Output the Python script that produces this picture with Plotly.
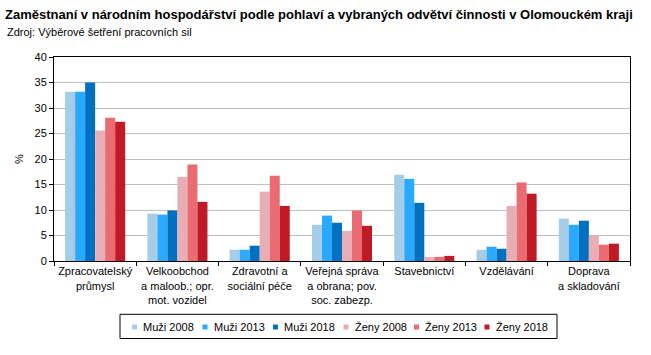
import plotly.graph_objects as go

# ---- data ----
categories = [
    "Zpracovatelský<br>průmysl",
    "Velkoobchod<br>a maloob.; opr.<br>mot. vozidel",
    "Zdravotní a<br>sociální péče",
    "Veřejná správa<br>a obrana; pov.<br>soc. zabezp.",
    "Stavebnictví",
    "Vzdělávání",
    "Doprava<br>a skladování",
]
series_names = ["Muži 2008", "Muži 2013", "Muži 2018", "Ženy 2008", "Ženy 2013", "Ženy 2018"]
muzi_2008 = [33.2, 9.3, 2.2, 7.1, 16.9, 2.2, 8.3]
muzi_2013 = [33.2, 9.1, 2.2, 8.9, 16.1, 2.8, 7.1]
muzi_2018 = [35.0, 9.9, 3.0, 7.5, 11.4, 2.4, 7.9]
zeny_2008 = [25.6, 16.5, 13.6, 5.9, 0.8, 10.8, 4.9]
zeny_2013 = [28.1, 18.9, 16.7, 9.9, 0.8, 15.4, 3.2]
zeny_2018 = [27.3, 11.6, 10.8, 6.9, 1.0, 13.2, 3.4]
y_ticks = [0, 5, 10, 15, 20, 25, 30, 35, 40]

# ---- styles ----
colors = ["#A6CDE8", "#29A9FF", "#0070C0", "#E8AEB3", "#EA6B72", "#BE1B26"]
FONT = "Liberation Sans, Arial, sans-serif"
W, H = 651, 355
ML, MR, MT, MB = 54, 21, 57, 94
PW, PH = W - ML - MR, H - MT - MB


def px_x(px):
    return (px - ML) / PW


def px_y(py):
    return (H - MB - py) / PH


fig = go.Figure()
all_series = [muzi_2008, muzi_2013, muzi_2018, zeny_2008, zeny_2013, zeny_2018]
for name, vals, col in zip(series_names, all_series, colors):
    fig.add_trace(go.Bar(x=categories, y=vals, name=name, marker=dict(color=col, line=dict(width=0))))

annotations = [
    dict(text="Zdroj: Výběrové šetření pracovních sil", xref="paper", yref="paper",
         x=px_x(5), y=px_y(32), xanchor="left", yanchor="middle", showarrow=False,
         font=dict(family=FONT, size=11, color="#000")),
    dict(text="%", xref="paper", yref="paper", x=px_x(19), y=0.5, textangle=-90,
         xanchor="center", yanchor="middle", showarrow=False,
         font=dict(family=FONT, size=11, color="#000")),
]
shapes = [
    dict(type="rect", xref="paper", yref="paper", x0=px_x(120), x1=px_x(557),
         y0=px_y(338.5), y1=px_y(314.3), line=dict(color="black", width=1), fillcolor="rgba(0,0,0,0)"),
]
sq_x = [132, 202.5, 273, 343.5, 414, 484.5]
leg_y = 327
for i, (name, col) in enumerate(zip(series_names, colors)):
    sx = sq_x[i]
    shapes.append(dict(type="rect", xref="paper", yref="paper",
                       x0=px_x(sx), x1=px_x(sx + 5), y0=px_y(leg_y + 2.5), y1=px_y(leg_y - 2.5),
                       line=dict(width=0), fillcolor=col))
    annotations.append(dict(text=name, xref="paper", yref="paper", x=px_x(sx + 9), y=px_y(leg_y),
                            xanchor="left", yanchor="middle", showarrow=False,
                            font=dict(family=FONT, size=11, color="#000")))

fig.update_layout(
    width=W, height=H,
    margin=dict(l=ML, r=MR, t=MT, b=MB, pad=0),
    paper_bgcolor="white", plot_bgcolor="white",
    showlegend=False,
    barmode="group", bargap=0.27, bargroupgap=0,
    font=dict(family=FONT, size=11, color="#000"),
    title=dict(text="<b>Zaměstnaní v národním hospodářství podle pohlaví a vybraných odvětví činnosti v Olomouckém kraji</b>",
               x=5 / W, xref="container", xanchor="left", y=1 - 14 / H, yref="container", yanchor="middle",
               font=dict(family=FONT, size=13, color="#000")),
    annotations=annotations,
    shapes=shapes,
)
fig.update_yaxes(range=[0, 40], tickvals=y_ticks, showgrid=True, gridcolor="#BEBEBE", gridwidth=1,
                 showline=True, linecolor="black", linewidth=1, mirror=True, zeroline=False,
                 ticks="outside", ticklen=4, tickcolor="black", tickfont=dict(family=FONT, size=11, color="#000"))
fig.update_xaxes(showline=True, linecolor="black", linewidth=1, mirror=True, ticks="outside",
                 tickson="boundaries", ticklen=4, tickcolor="black", tickangle=0,
                 tickfont=dict(family=FONT, size=11, color="#000"))

fig.write_html("out.html", config={"displayModeBar": False},
               post_script="document.body.style.margin='0';")
